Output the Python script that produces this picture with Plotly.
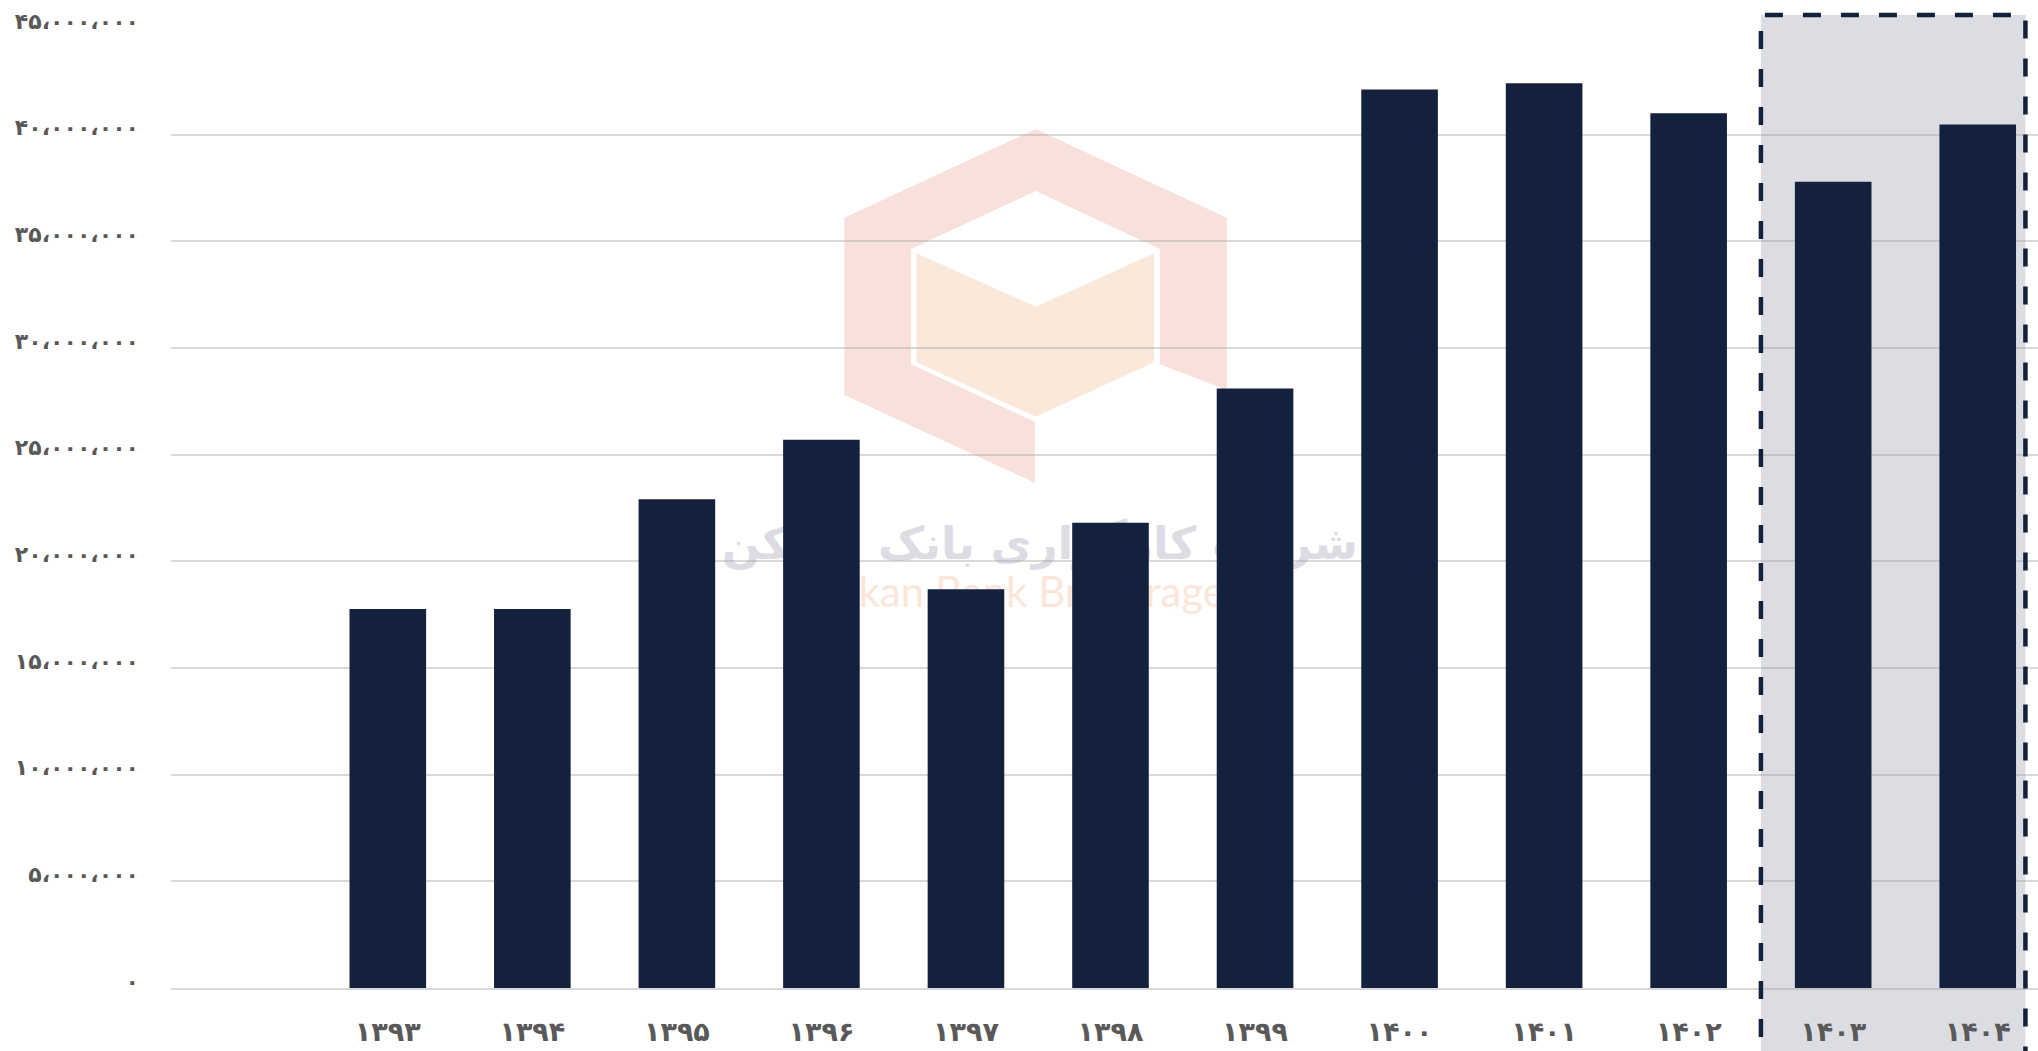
import plotly.graph_objects as go

# ---- data ----
years = ["۱۳۹۳", "۱۳۹۴", "۱۳۹۵", "۱۳۹۶", "۱۳۹۷", "۱۳۹۸", "۱۳۹۹",
         "۱۴۰۰", "۱۴۰۱", "۱۴۰۲", "۱۴۰۳", "۱۴۰۴"]
values = [17.77e6, 17.77e6, 22.91e6, 25.70e6, 18.69e6, 21.81e6, 28.10e6,
          42.12e6, 42.41e6, 41.00e6, 37.79e6, 40.48e6]
y_tickvals = [0, 5e6, 10e6, 15e6, 20e6, 25e6, 30e6, 35e6, 40e6, 45e6]
y_ticktext = ["۰", "۵،۰۰۰،۰۰۰", "۱۰،۰۰۰،۰۰۰", "۱۵،۰۰۰،۰۰۰", "۲۰،۰۰۰،۰۰۰",
              "۲۵،۰۰۰،۰۰۰", "۳۰،۰۰۰،۰۰۰", "۳۵،۰۰۰،۰۰۰", "۴۰،۰۰۰،۰۰۰", "۴۵،۰۰۰،۰۰۰"]
highlight_years = ["۱۴۰۳", "۱۴۰۴"]
watermark_fa = "شرکت کارگزاری بانک مسکن"
watermark_en = "Maskan Bank Brokerage"

W, H = 2038, 1051
ML, MR, MT, MB = 171, 0, 28, 63
PW, PH = W - ML - MR, H - MT - MB

BAR = "#14213D"
LABEL = "#595959"
GRID = "rgba(160,160,160,0.4)"

idx = list(range(len(years)))


def px2paper(x, y):
    return (x - ML) / PW, (H - MB - y) / PH


def path_from(points):
    pts = [px2paper(x, y) for x, y in points]
    return "M " + " L ".join(f"{a:.5f},{b:.5f}" for a, b in pts) + " Z"


fig = go.Figure()
fig.add_trace(go.Bar(x=idx, y=values, marker=dict(color=BAR, line=dict(width=0)),
                     hoverinfo="skip"))

shapes = []
# highlight box (fill, below)
hi0 = years.index(highlight_years[0]) - 0.5
hi1 = years.index(highlight_years[-1]) + 0.33
box_top = (H - MB - 15) / PH
shapes.append(dict(type="rect", xref="x", yref="paper", x0=hi0, x1=hi1,
                   y0=-0.2, y1=box_top, layer="below",
                   fillcolor="#DCDDE2", line=dict(width=0)))
shapes.append(dict(type="rect", xref="x", yref="paper", x0=hi0, x1=hi1,
                   y0=-0.2, y1=box_top, layer="above",
                   fillcolor="rgba(0,0,0,0)",
                   line=dict(color=BAR, width=4.5, dash="18px,20px")))

# watermark logo
outer = [(1035.7, 129), (1226.8, 217.7), (1226.8, 390), (1159.8, 364.3), (1159.8, 249),
         (1035.7, 191), (911.1, 249), (911.1, 364.3), (1034.8, 421.7), (1034.8, 482.7),
         (844.2, 395), (844.2, 217.7)]
inner = [(916.5, 253.3), (1035.7, 306.7), (1154, 253.3), (1154, 362.3),
         (1035.7, 416.7), (916.5, 362.3)]
shapes.append(dict(type="path", xref="paper", yref="paper", path=path_from(outer),
                   fillcolor="#F8E1DB", line=dict(width=0), layer="below"))
shapes.append(dict(type="path", xref="paper", yref="paper", path=path_from(inner),
                   fillcolor="#FAE8DA", line=dict(width=0), layer="below"))

# watermark texts
cx, cy = px2paper(1040, 540)
shapes.append(dict(type="rect", xref="paper", yref="paper", x0=cx - 0.2, x1=cx + 0.2,
                   y0=cy - 0.04, y1=cy + 0.04, layer="below", line=dict(width=0),
                   fillcolor="rgba(0,0,0,0)",
                   label=dict(text=watermark_fa, textposition="middle center",
                              font=dict(family="DejaVu Sans", size=45, color="#DDDCE5",
                                        weight="bold"))))
ex, ey = px2paper(1003, 590)
shapes.append(dict(type="rect", xref="paper", yref="paper", x0=ex - 0.15, x1=ex + 0.15,
                   y0=ey - 0.03, y1=ey + 0.03, layer="below", line=dict(width=0),
                   fillcolor="rgba(0,0,0,0)",
                   label=dict(text=watermark_en, textposition="middle center",
                              font=dict(family="Lato", size=42, color="#FCE6DA"))))

fig.update_layout(
    width=W, height=H,
    margin=dict(l=ML, r=MR, t=MT, b=MB, pad=0),
    paper_bgcolor="white", plot_bgcolor="rgba(0,0,0,0)",
    showlegend=False, bargap=0.47,
    shapes=shapes,
    xaxis=dict(range=[-1.5, len(years) - 1 + 0.417], tickvals=idx, ticktext=years,
               showgrid=False, zeroline=False, showline=True, linecolor=GRID, linewidth=1.5,
               ticks="", ticklabelstandoff=19,
               tickfont=dict(family="DejaVu Sans", size=27, color=LABEL, weight="bold")),
    yaxis=dict(range=[0, 45e6], tickvals=y_tickvals, ticktext=y_ticktext,
               showgrid=True, gridcolor=GRID, gridwidth=1.5, zeroline=False,
               showline=False, ticks="", ticklabelstandoff=31, ticklabelshift=-7,
               tickfont=dict(family="DejaVu Sans", size=22, color=LABEL, weight="bold")),
)

fig.write_html("out.html", config={"displayModeBar": False},
               post_script="document.body.style.margin='0';"
                           "document.body.style.overflow='hidden';")
